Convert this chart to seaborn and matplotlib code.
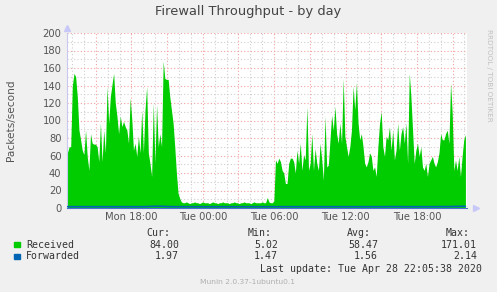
import numpy as np
import pandas as pd
import matplotlib
matplotlib.use("Agg")
import matplotlib.pyplot as plt
import matplotlib.dates as mdates
from matplotlib.ticker import FuncFormatter, MultipleLocator
from matplotlib.patches import Rectangle
import seaborn as sns

# ---------------- data ----------------
title = "Firewall Throughput - by day"
y_label = "Packets/second"
last_sample = "2020-04-28 22:05:00"
sample_step = "500s"

received = [
    # Mon ~12:53 .. ~21:20
    63, 70, 70, 140, 154, 150, 127, 89, 78, 66, 61, 89, 59, 43, 85, 74, 73, 73, 70, 53,
    97, 53, 89, 63, 139, 97, 127, 141, 154, 120, 105, 85, 105, 93, 99, 93, 89, 74, 126, 101,
    66, 74, 59, 82, 63, 112, 63, 112, 139, 63, 51, 36, 120, 51, 118, 70, 85, 70, 168, 148,
    147, 147,
    # Mon ~21:20 .. Tue ~05:10
    127, 112, 97, 70, 40, 17, 11, 7,
    6, 6, 7, 6, 5, 6, 6, 7, 6, 6, 5, 6, 7, 6, 6, 6, 5, 6, 7, 6, 6, 5,
    6, 6, 7, 6, 6, 6, 5, 6, 6, 7, 6, 6, 5, 6, 6, 7, 6, 6, 6, 5,
    6, 7, 6, 6, 6, 6, 7, 6, 6,
    # Tue ~05:20 .. ~13:30
    12, 7, 6, 6, 8, 55, 51, 57, 53, 43, 40, 28, 28, 51, 57, 57, 53, 40, 66, 51,
    74, 43, 61, 55, 116, 43, 51, 85, 43, 68, 51, 43, 74, 55, 32, 105, 47, 49, 78, 106,
    89, 116, 85, 74, 97, 74, 148, 82, 70, 59, 70, 89, 139, 112, 143, 97, 78, 85, 70, 51,
    # Tue ~13:40 .. 22:05
    47, 53, 63, 59, 43, 47, 36, 70, 97, 110, 70, 59, 82, 78, 93, 66, 89, 55, 66, 97,
    66, 85, 93, 74, 97, 51, 154, 127, 89, 51, 66, 74, 59, 70, 47, 43, 51, 36, 51, 55,
    59, 51, 47, 53, 63, 85, 78, 78, 85, 89, 74, 143, 108, 43, 55, 43, 59, 36, 59, 78,
    84,
]

forwarded = [
    1.5, 1.5, 1.5, 1.5, 1.5, 1.5, 1.5, 1.5, 1.5, 1.5, 1.9, 2.0, 1.6, 1.5, 1.5, 1.5,
    1.5, 1.5, 1.5, 1.5, 1.5, 1.5, 1.5, 1.5, 1.5, 1.5, 1.5, 1.5, 1.5, 1.5, 1.5, 1.5,
    1.5, 1.5, 1.5, 1.5, 1.5, 1.5, 1.6, 1.6, 1.5, 1.5, 1.5, 1.5, 1.6, 1.6, 1.8, 1.97,
]

series_names = ["Received", "Forwarded"]
series_colors = ["#00cc00", "#0066b3"]
stat_headers = ["Cur:", "Min:", "Avg:", "Max:"]
stat_cur = ["84.00", "1.97"]
stat_min = ["5.02", "1.47"]
stat_avg = ["58.47", "1.56"]
stat_max = ["171.01", "2.14"]
last_update = "Last update: Tue Apr 28 22:05:38 2020"
footer = "Munin 2.0.37-1ubuntu0.1"
side_text = "RRDTOOL / TOBI OETIKER"

y_max = 200
y_major = 20
y_minor = 10

# ---------------- figure ----------------
sns.set_theme(style="white")
plt.rcParams["font.family"] = ["DejaVu Sans"]

W, H = 497, 292
fig = plt.figure(figsize=(W / 100, H / 100), dpi=100, facecolor="#f0f0f0")
ax = fig.add_axes([67 / W, 1 - 208 / H, 400 / W, 175 / H])
ax.set_facecolor("white")

t_recv = pd.date_range(end=last_sample, periods=len(received), freq=sample_step)
t_fwd = pd.date_range(start=t_recv[0], end=t_recv[-1], periods=len(forwarded))

df_r = pd.DataFrame({"time": t_recv, "value": received})
df_f = pd.DataFrame({"time": t_fwd, "value": forwarded})

ax.fill_between(df_r["time"], 0, df_r["value"], color=series_colors[0], lw=0, zorder=2)
sns.lineplot(data=df_f, x="time", y="value", ax=ax, color=series_colors[1], lw=1.2, zorder=3)

x0 = t_recv[0] - pd.Timedelta("2min")
x1 = t_recv[-1] + pd.Timedelta("8min")
ax.set_xlim(x0, x1)
ax.set_ylim(0, y_max)

# grid
ax.yaxis.set_major_locator(MultipleLocator(y_major))
ax.yaxis.set_minor_locator(MultipleLocator(y_minor))
ax.xaxis.set_major_locator(mdates.HourLocator(byhour=range(0, 24, 3)))
ax.xaxis.set_minor_locator(mdates.HourLocator())


def xfmt(v, pos):
    d = mdates.num2date(v)
    return d.strftime("%a %H:%M") if d.hour % 6 == 0 else ""


ax.xaxis.set_major_formatter(FuncFormatter(xfmt))
ax.grid(which="minor", color="#cfcfcf", linestyle=(0, (1, 2)), lw=0.8)
ax.grid(which="major", color="#f4a0a0", linestyle=(0, (1, 2)), lw=0.8)
for line in ax.get_xgridlines() + ax.get_ygridlines():
    line.set_zorder(4)

ax.tick_params(axis="both", which="both", length=0, labelsize=7.2, colors="#555555")
ax.tick_params(axis="y", pad=4)
ax.tick_params(axis="x", pad=3)
ax.set_xlabel("")
ax.set_ylabel(y_label, fontsize=7.6, color="#555555", labelpad=19)

for s in ["top", "right"]:
    ax.spines[s].set_visible(False)
ax.spines["left"].set_color("#c8c8f0")
ax.spines["bottom"].set_color("#4a6fd0")
ax.spines["left"].set_linewidth(0.8)
ax.spines["bottom"].set_linewidth(0.8)

# axis arrows
ax.plot([0], [1.03], marker="^", ms=5, color="#c8c8f8", transform=ax.transAxes, clip_on=False)
ax.plot([1.022], [0], marker=">", ms=5, color="#c8c8f8", transform=ax.transAxes, clip_on=False)

# title and side text
fig.text(248 / W, 1 - 12 / H, title, ha="center", va="center", fontsize=9.4, color="#444444")
fig.text(489 / W, 1 - 75 / H, side_text, ha="center", va="center", rotation=270,
         fontsize=5.2, color="#c0c0c0")

# legend table
mono = "DejaVu Sans Mono"
fs = 7.1
tc = "#333333"
col_right = [179, 278, 378, 477]
head_right = [170, 272, 371, 470]
for hx, hd in zip(head_right, stat_headers):
    fig.text(hx / W, 1 - 233 / H, hd, ha="right", va="center", family=mono, fontsize=fs, color=tc)

rows_y = [244.5, 256.3]
for i, name in enumerate(series_names):
    yy = rows_y[i]
    fig.patches.append(Rectangle((14 / W, 1 - (yy + 2.8) / H), 5.5 / W, 5.5 / H,
                                 transform=fig.transFigure, color=series_colors[i]))
    fig.text(26 / W, 1 - yy / H, name, ha="left", va="center", family=mono, fontsize=fs, color=tc)
    for cx, vals in zip(col_right, [stat_cur, stat_min, stat_avg, stat_max]):
        fig.text(cx / W, 1 - yy / H, vals[i], ha="right", va="center", family=mono,
                 fontsize=fs, color=tc)

fig.text(482 / W, 1 - 268.7 / H, last_update, ha="right", va="center", family=mono,
         fontsize=fs, color=tc)
fig.text(248 / W, 1 - 281.5 / H, footer, ha="center", va="center", fontsize=5.4, color="#b0b0b0")

fig.savefig("out.png", dpi=100, facecolor=fig.get_facecolor())
